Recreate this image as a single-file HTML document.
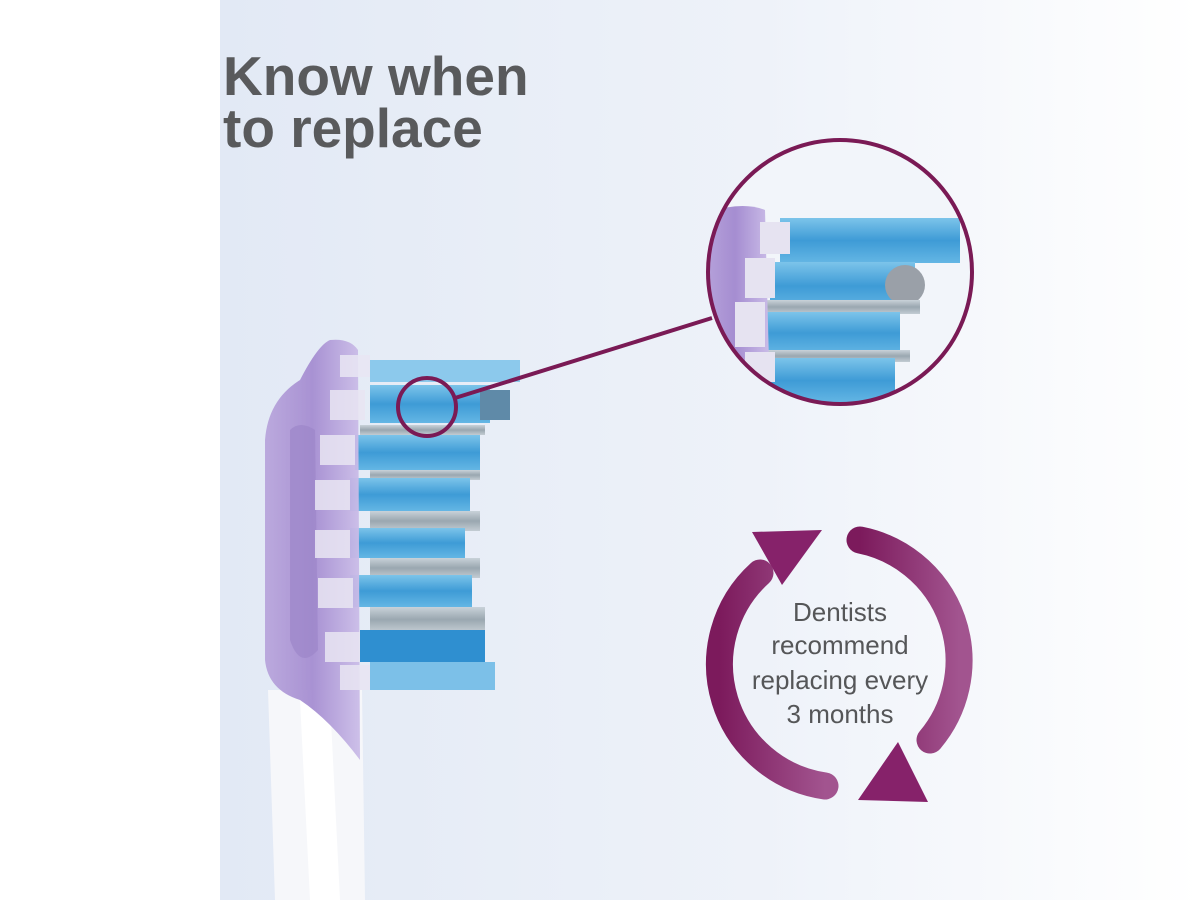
<!DOCTYPE html>
<html><head><meta charset="utf-8"><style>
html,body{margin:0;padding:0;background:#fff}
svg{display:block}
</style></head><body>
<svg width="1200" height="900" viewBox="0 0 1200 900" xmlns="http://www.w3.org/2000/svg">
<defs>
<linearGradient id="bg" x1="0" y1="0" x2="1" y2="0">
<stop offset="0" stop-color="#e2e9f5"/><stop offset="0.55" stop-color="#eef2f9"/><stop offset="1" stop-color="#ffffff"/>
</linearGradient>
<linearGradient id="blue" x1="0" y1="0" x2="0" y2="1">
<stop offset="0" stop-color="#7cc4ea"/><stop offset="0.5" stop-color="#3e9bd6"/><stop offset="1" stop-color="#64b6e4"/>
</linearGradient>
<linearGradient id="gray" x1="0" y1="0" x2="0" y2="1">
<stop offset="0" stop-color="#c9d2d9"/><stop offset="0.5" stop-color="#9aa7b0"/><stop offset="1" stop-color="#c3ccd3"/>
</linearGradient>
<linearGradient id="purp" x1="0" y1="0" x2="1" y2="0">
<stop offset="0" stop-color="#b9a6dc"/><stop offset="0.5" stop-color="#a58dd1"/><stop offset="1" stop-color="#cbbde8"/>
</linearGradient>
<linearGradient id="arc" x1="0" y1="0" x2="1" y2="0">
<stop offset="0" stop-color="#7c1a5c"/><stop offset="1" stop-color="#a2548f"/>
</linearGradient>
<clipPath id="zc"><circle cx="840" cy="272" r="132"/></clipPath>
</defs>
<rect x="220" y="0" width="980" height="900" fill="url(#bg)"/>
<rect x="0" y="0" width="220" height="900" fill="#fff"/>

<text x="223" y="95" font-family="Liberation Sans, sans-serif" font-weight="bold" font-size="55" fill="#595a5c">Know when</text>
<text x="223" y="147" font-family="Liberation Sans, sans-serif" font-weight="bold" font-size="55" fill="#595a5c">to replace</text>

<!-- handle -->
<path d="M268 690 L362 690 L365 900 L275 900 Z" fill="#f6f7fa"/>
<path d="M300 700 L330 700 L340 900 L310 900 Z" fill="#ffffff"/>

<!-- bristles -->
<g>
<rect x="370" y="360" width="150" height="22" fill="#8cc9ec"/>
<rect x="370" y="385" width="120" height="38" fill="url(#blue)"/>
<rect x="480" y="390" width="30" height="30" fill="#5f8aa8"/>
<rect x="360" y="425" width="125" height="10" fill="url(#gray)"/>
<rect x="355" y="435" width="125" height="35" fill="url(#blue)"/>
<rect x="370" y="470" width="110" height="10" fill="url(#gray)"/>
<rect x="350" y="478" width="120" height="33" fill="url(#blue)"/>
<rect x="370" y="511" width="110" height="20" fill="url(#gray)"/>
<rect x="350" y="528" width="115" height="30" fill="url(#blue)"/>
<rect x="370" y="558" width="110" height="20" fill="url(#gray)"/>
<rect x="350" y="575" width="122" height="32" fill="url(#blue)"/>
<rect x="370" y="607" width="115" height="25" fill="url(#gray)"/>
<rect x="360" y="630" width="125" height="32" fill="#2f8fd0"/>
<rect x="370" y="662" width="125" height="28" fill="#7cc0e8"/>
</g>
<!-- head -->
<path d="M330 340 Q350 338 358 350 L360 760 Q330 720 300 700 Q268 690 265 660 L265 440 Q268 400 300 380 Q318 345 330 340 Z" fill="url(#purp)" opacity="0.95"/>
<path d="M290 430 Q300 420 315 430 L318 650 Q300 670 290 640 Z" fill="#9c86c9" opacity="0.7"/>
<g fill="#e9e6f3" opacity="0.85">
<rect x="340" y="355" width="30" height="22"/><rect x="330" y="390" width="35" height="30"/>
<rect x="320" y="435" width="35" height="30"/><rect x="315" y="480" width="35" height="30"/>
<rect x="315" y="530" width="35" height="28"/><rect x="318" y="578" width="35" height="30"/>
<rect x="325" y="632" width="35" height="30"/><rect x="340" y="665" width="30" height="25"/>
</g>

<!-- zoom connector -->
<line x1="455" y1="398" x2="712" y2="318" stroke="#7a1a55" stroke-width="4"/>
<circle cx="427" cy="407" r="29" fill="none" stroke="#7a1a55" stroke-width="4"/>

<!-- zoom circle -->
<circle cx="840" cy="272" r="132" fill="#f2f5fa"/>
<g clip-path="url(#zc)">
<rect x="780" y="218" width="180" height="45" fill="url(#blue)"/>
<rect x="770" y="262" width="145" height="48" fill="url(#blue)"/>
<circle cx="905" cy="285" r="20" fill="#9aa0a8"/>
<rect x="760" y="300" width="160" height="14" fill="url(#gray)"/>
<rect x="760" y="312" width="140" height="42" fill="url(#blue)"/>
<rect x="760" y="350" width="150" height="12" fill="url(#gray)"/>
<rect x="755" y="358" width="140" height="45" fill="url(#blue)"/>
<path d="M700 215 Q740 200 765 210 L770 400 L700 420 Z" fill="url(#purp)"/>
<g fill="#e6e3f1"><rect x="760" y="222" width="30" height="32"/><rect x="745" y="258" width="30" height="40"/><rect x="735" y="302" width="30" height="45"/><rect x="745" y="352" width="30" height="30"/></g>
</g>
<circle cx="840" cy="272" r="132" fill="none" stroke="#7a1a55" stroke-width="4"/>

<!-- cycle arrows -->
<path d="M825 786 A123 123 0 0 1 760 573" fill="none" stroke="url(#arc)" stroke-width="27" stroke-linecap="round"/>
<polygon points="752,532 822,530 782,585" fill="#86226a"/>
<path d="M860 540 A123 123 0 0 1 930 740" fill="none" stroke="url(#arc)" stroke-width="27" stroke-linecap="round"/>
<polygon points="858,800 928,802 898,742" fill="#86226a"/>

<g font-family="Liberation Sans, sans-serif" font-size="26" fill="#555658" text-anchor="middle">
<text x="840" y="621">Dentists</text>
<text x="840" y="654">recommend</text>
<text x="840" y="689">replacing every</text>
<text x="840" y="723">3 months</text>
</g>
</svg>
</body></html>
